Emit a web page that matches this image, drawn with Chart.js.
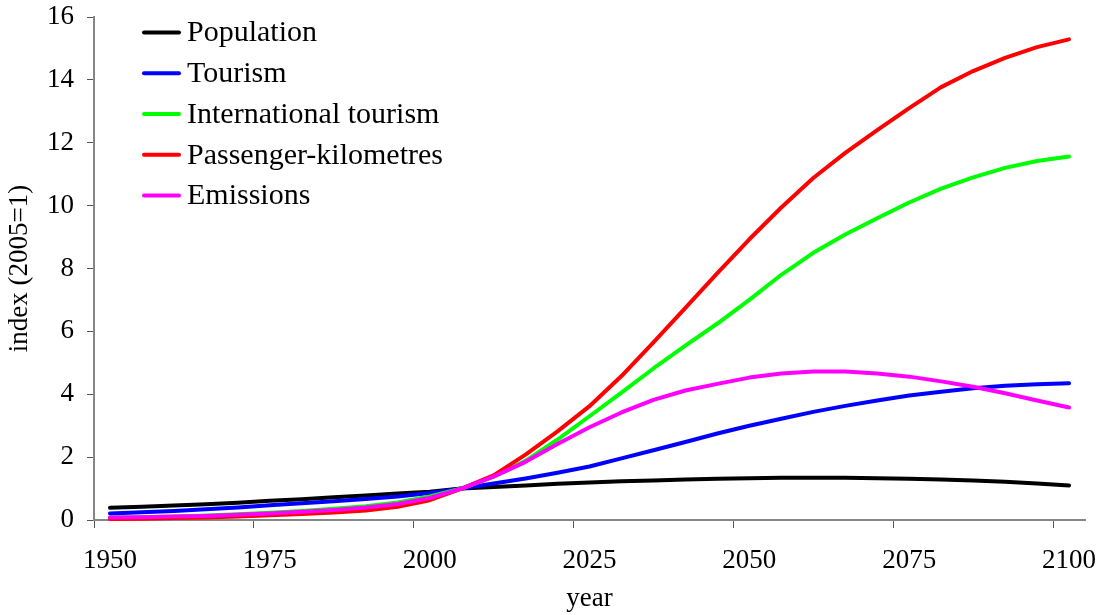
<!DOCTYPE html>
<html>
<head>
<meta charset="utf-8">
<script src="https://cdn.jsdelivr.net/npm/chart.js@4.4.1/dist/chart.umd.min.js"></script>
<style>
  html, body { margin: 0; padding: 0; background: #fff; }
</style>
</head>
<body>
<canvas id="chart" width="1102" height="615"></canvas>
<script>
const years = ['1950', '1955', '1960', '1965', '1970', '1975', '1980', '1985', '1990', '1995', '2000',
  '2005', '2010', '2015', '2020', '2025', '2030', '2035', '2040', '2045', '2050',
  '2055', '2060', '2065', '2070', '2075', '2080', '2085', '2090', '2095', '2100'];

const population = [0.39, 0.42, 0.46, 0.50, 0.55, 0.61, 0.66, 0.72, 0.78, 0.84, 0.90,
  1.00, 1.05, 1.10, 1.15, 1.19, 1.23, 1.26, 1.29, 1.31, 1.33,
  1.34, 1.34, 1.34, 1.33, 1.31, 1.29, 1.26, 1.22, 1.16, 1.10];
const tourism = [0.21, 0.25, 0.29, 0.34, 0.40, 0.47, 0.53, 0.60, 0.67, 0.75, 0.86,
  1.00, 1.16, 1.32, 1.50, 1.70, 1.96, 2.22, 2.48, 2.75, 3.00,
  3.22, 3.44, 3.63, 3.80, 3.96, 4.08, 4.19, 4.27, 4.32, 4.35];
const intlTourism = [0.08, 0.09, 0.11, 0.14, 0.18, 0.23, 0.29, 0.36, 0.44, 0.56, 0.75,
  1.00, 1.38, 1.88, 2.56, 3.30, 4.05, 4.82, 5.55, 6.25, 7.00,
  7.80, 8.50, 9.08, 9.60, 10.10, 10.54, 10.90, 11.20, 11.42, 11.56];
const passengerKm = [0.03, 0.04, 0.06, 0.08, 0.11, 0.15, 0.19, 0.24, 0.30, 0.42, 0.63,
  1.00, 1.42, 2.08, 2.82, 3.62, 4.58, 5.65, 6.75, 7.85, 8.93,
  9.94, 10.88, 11.68, 12.40, 13.10, 13.77, 14.28, 14.70, 15.04, 15.29];
const emissions = [0.08, 0.09, 0.11, 0.13, 0.17, 0.21, 0.26, 0.32, 0.40, 0.51, 0.70,
  1.00, 1.38, 1.85, 2.42, 2.95, 3.42, 3.82, 4.12, 4.33, 4.53,
  4.66, 4.72, 4.72, 4.66, 4.56, 4.41, 4.24, 4.03, 3.80, 3.58];

const yTicks = [0, 2, 4, 6, 8, 10, 12, 14, 16];
const serif = 'Liberation Serif';

function series(label, data, color, order) {
  return {
    label, data, order,
    borderColor: color,
    backgroundColor: color,
    borderWidth: 4,
    borderCapStyle: 'round',
    borderJoinStyle: 'round',
    pointRadius: 0,
    tension: 0,
    clip: false
  };
}

// legend drawn inside the plot, line sample + label
const lineLegend = {
  id: 'lineLegend',
  afterDraw(chart) {
    const { ctx, chartArea } = chart;
    const x = chartArea.left + 48;
    let y = chartArea.top + 15.6;
    ctx.save();
    ctx.font = `30px "${serif}"`;
    ctx.textBaseline = 'middle';
    chart.data.datasets.forEach((ds) => {
      ctx.strokeStyle = ds.borderColor;
      ctx.lineWidth = 4;
      ctx.lineCap = 'round';
      ctx.beginPath();
      ctx.moveTo(x + 2, y);
      ctx.lineTo(x + 37, y);
      ctx.stroke();
      ctx.fillStyle = '#000';
      ctx.fillText(ds.label, x + 45, y + 1);
      y += 40.7;
    });
    ctx.restore();
  }
};

new Chart(document.getElementById('chart'), {
  type: 'line',
  data: {
    labels: years,
    datasets: [
      series('Population', population, '#000000', 4),
      series('Tourism', tourism, '#0000ff', 3),
      series('International tourism', intlTourism, '#00ff00', 2),
      series('Passenger-kilometres', passengerKm, '#ff0000', 1),
      series('Emissions', emissions, '#ff00ff', 0)
    ]
  },
  options: {
    responsive: false,
    animation: false,
    layout: { padding: { top: 17, right: 17, left: 0, bottom: 0 } },
    plugins: { legend: { display: false }, tooltip: { enabled: false } },
    scales: {
      x: {
        type: 'category',
        offset: true,
        afterFit: (s) => { s.height = 95; s.paddingLeft = 0; s.paddingRight = 0; },
        grid: {
          offset: true,
          drawOnChartArea: false,
          tickLength: 8,
          tickWidth: 1,
          tickColor: (c) => (c.index !== undefined && c.index % 5 === 0 ? '#555555' : 'rgba(0,0,0,0)')
        },
        border: { color: '#868686', width: 2 },
        ticks: {
          autoSkip: false,
          maxRotation: 0,
          padding: 17,
          color: '#000',
          font: { family: serif, size: 27 },
          callback: (v, i) => (i % 5 === 0 ? years[i] : '')
        },
        title: { display: true, text: 'year', color: '#000', font: { family: serif, size: 27 }, padding: { top: 0, bottom: 0 } }
      },
      y: {
        min: 0,
        max: 16,
        afterFit: (s) => { s.width = 94; s.paddingTop = 0; s.paddingBottom = 0; },
        afterBuildTicks: (s) => { s.ticks = yTicks.map((v) => ({ value: v })); },
        grid: { drawOnChartArea: false, tickLength: 7, tickWidth: 1, tickColor: '#555555' },
        border: { color: '#868686', width: 2 },
        ticks: { padding: 13, color: '#000', font: { family: serif, size: 27 } },
        title: { display: true, text: 'index (2005=1)', color: '#000', font: { family: serif, size: 27 }, padding: { top: 4, bottom: 0 } }
      }
    }
  },
  plugins: [lineLegend]
});
</script>
</body>
</html>
